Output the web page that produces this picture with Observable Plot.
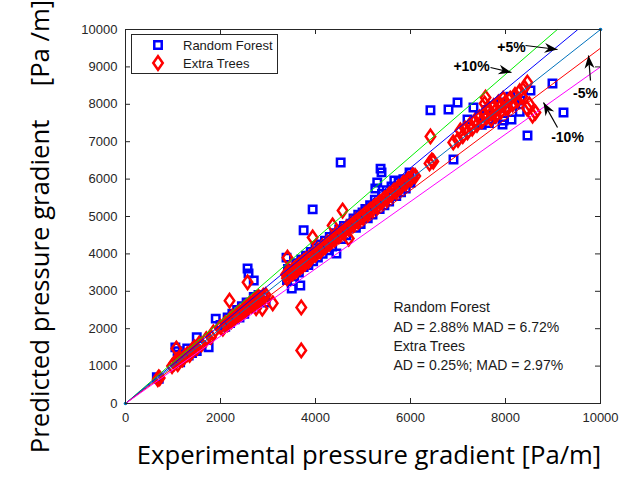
<!DOCTYPE html>
<html><head><meta charset="utf-8">
<script src="https://cdn.jsdelivr.net/npm/d3@7"></script>
<script src="https://cdn.jsdelivr.net/npm/@observablehq/plot@0.6"></script>
<style>
body{margin:0;background:#fff}
#wrap{position:relative;width:631px;height:479px}
#legend{position:absolute;left:131px;top:34px;width:145px;height:38px;border:1px solid #262626;background:#fff}
</style>
</head><body><div id="wrap"><div id="legend"></div></div>
<script>
// ---- data (Pa/m) ----
const seriesNames = ["Random Forest", "Extra Trees"];
const rfX = [660,700,1050,1100,1100,1150,1200,1300,1330,1400,1500,1500,1600,1750,1900,2000,2100,2150,2200,2250,2300,2350,2400,2450,2500,2550,2570,2590,2700,2650,2700,2750,2800,2850,2900,2950,
 3390,3400,3420,3500,3680,3450,3550,3600,3650,3700,3750,3750,3800,3850,3900,3940,3950,4000,4050,4100,4150,4200,4250,4300,4350,4400,4440,4500,4530,4550,4600,4650,4740,4800,4850,4900,4950,4990,5050,5100,5150,5200,5260,5300,5370,5390,5250,5350,5400,5450,5500,5550,5600,5660,5700,5750,5800,5850,5900,5980,6000,6050,
 6420,6800,6990,6905,7200,7326,7450,7500,7600,7700,7750,7800,7900,7937,7958,8000,8100,8126,8200,8316,8463,8526,8989,9221,8300,7650];
const rfY = [700,660,1500,1400,1200,1100,1300,1470,1280,1350,1770,1400,1550,1500,2270,2100,2050,2300,2150,2400,2250,2500,2300,2600,2400,2700,3610,3480,3290,2550,2850,2650,2900,2750,2850,2700,
 3900,3300,3600,3075,3155,3550,3400,3750,3500,3850,4630,3650,3950,3700,4050,5190,3800,4150,3900,4250,4000,4350,4100,4450,4200,4550,4010,4650,6445,4400,4750,4500,4810,4950,4700,5050,4800,5110,5200,4950,5300,5050,5750,5910,6280,6180,5450,5200,5600,5300,5700,5400,5800,5960,5550,5900,5650,6000,5750,6180,5900,6100,
 7840,7860,8050,6525,7595,7915,7700,7450,7850,7600,7950,7700,8050,7460,7567,7900,8200,7595,8000,8102,7166,8370,8557,7781,7800,7500];
const etX = [680,700,720,980,1030,1080,1100,1150,1200,1250,1300,1350,1400,1450,1500,1550,1600,1700,1800,1850,
 2000,2050,2100,2150,2200,2230,2250,2300,2350,2380,2400,2450,2500,2520,2550,2600,2620,2650,2700,2720,2750,2780,2800,2820,2850,2900,2950,
 2190,2570,2880,3100,3700,3700,1070,2750,
 3380,3400,3420,3450,3500,3520,3550,3580,3600,3620,3650,3680,3700,3730,3750,3780,3800,3850,3880,3900,3950,4000,4050,4100,4150,4200,4250,4300,4350,4400,4450,4500,4550,4600,4650,4700,3410,3940,4360,4570,4700,
 4750,4800,4850,4900,4950,5000,5050,5100,5150,5200,5250,5300,5350,5400,5450,5500,5550,5600,5650,5700,5750,5800,5850,5900,5950,6000,6050,6100,
 6400,6450,6480,6420,
 6900,7000,7050,7100,7150,7200,7250,7300,7350,7400,7450,7500,7550,7600,7650,7700,7750,7800,7850,7900,7950,8000,8050,8100,8150,8200,8250,8300,8350,8400,8460,8570,8630,8500,8450,7700,7800,7900,8000,7580,7560];
const etY = [650,700,680,1000,1080,1150,1050,1200,1180,1260,1320,1300,1430,1500,1480,1600,1580,1720,1780,1900,
 2050,2000,2150,2120,2250,2200,2320,2280,2400,2350,2450,2420,2550,2480,2600,2580,2680,2620,2750,2680,2800,2720,2850,2780,2800,2880,2900,
 2750,3240,2540,2680,2570,1420,1470,2550,
 3450,3350,3500,3420,3550,3480,3600,3540,3650,3580,3700,3640,3750,3690,3800,3740,3850,3800,3920,3870,4000,3980,4100,4060,4200,4180,4300,4280,4400,4380,4500,4480,4600,4580,4700,4680,3900,4440,4760,5160,4410,
 4800,4780,4900,4870,5000,4980,5100,5060,5200,5180,5300,5260,5400,5380,5500,5460,5600,5580,5700,5660,5800,5780,5900,5880,6000,5980,6100,6080,
 6420,6500,6470,7140,
 6980,7050,7300,7150,7350,7250,7450,7350,7550,7450,7650,7550,7750,7650,7850,7750,7950,7850,8050,7950,8150,8050,7900,8150,8000,8250,8100,8350,8200,8450,8580,7700,7780,8000,7900,7600,7700,7800,7900,8180,8020];
const xTicks = [0,2000,4000,6000,8000,10000];
const yTicks = [0,1000,2000,3000,4000,5000,6000,7000,8000,9000,10000];
const lineFactors = [1.1, 1.05, 1.0, 0.95, 0.9];
const lineColors = ["#00ee00", "#0000ff", "#0072bd", "#ff0000", "#ff00ff"];
const annText = ["+5%", "+10%", "-5%", "-10%"];
const annX = [8126, 7284, 9684, 9305];
const annY = [9519, 9011, 8289, 7112];
const arrX1 = [8421, 7684, 9789, 9095];
const arrY1 = [9572, 8984, 8636, 7380];
const arrX2 = [9095, 8126, 9747, 8800];
const arrY2 = [9465, 8850, 9305, 8048];
const statLines = ["Random Forest", "AD = 2.88% MAD = 6.72%", "Extra Trees", "AD = 0.25%; MAD = 2.97%"];
const statX = 5642;
const statY = [2567, 2032, 1524, 1016];
const xLabel = "Experimental pressure gradient [Pa/m]";
const yLabel = "Predicted pressure gradient\u00a0\u00a0\u00a0\u00a0\u00a0[Pa /m]";

// ---- build ----
const W = 631, H = 479, mL = 125, mR = 31, mT = 29, mB = 76;
const innerW = W - mL - mR, innerH = H - mT - mB, tl = 5;
const rf = rfX.map((x, i) => ({x, y: rfY[i]}));
const et = etX.map((x, i) => ({x, y: etY[i]}));
const lines = lineFactors.map((k, i) => {
  const xe = Math.min(10000, 10000 / k);
  return {x1: 0, y1: 0, x2: xe, y2: k * xe, c: lineColors[i]};
});
const ann = annText.map((t, i) => ({t, x: annX[i], y: annY[i]}));
const arrows = arrX1.map((x, i) => ({x1: x, y1: arrY1[i], x2: arrX2[i], y2: arrY2[i]}));
const stats = statLines.map((t, i) => ({t, x: statX, y: statY[i]}));

const diamond = {
  draw(ctx, size) {
    const r = Math.sqrt(size / Math.PI);
    const hw = 1.13 * r, hh = 1.6 * r;
    ctx.moveTo(0, -hh); ctx.lineTo(hw, 0); ctx.lineTo(0, hh); ctx.lineTo(-hw, 0); ctx.closePath();
  }
};
const axisColor = "#262626";

const chart = Plot.plot({
  width: W, height: H,
  marginLeft: mL, marginRight: mR, marginTop: mT, marginBottom: mB,
  style: {fontFamily: "'Liberation Sans', Arial, sans-serif", fontSize: "13px", color: axisColor, background: "white", overflow: "visible"},
  x: {domain: [0, 10000], ticks: xTicks, tickSize: 0, tickPadding: 9, label: null, tickFormat: d3.format("d")},
  y: {domain: [0, 10000], ticks: yTicks, tickSize: 0, tickPadding: 8, label: null, tickFormat: d3.format("d")},
  marks: [
    Plot.dot(rf, {x: "x", y: "y", symbol: "square", r: 4.2, stroke: "#0000ff", strokeWidth: 2.5, fill: "none"}),
    Plot.dot(et, {x: "x", y: "y", symbol: diamond, r: 4.2, stroke: "#ff0000", strokeWidth: 2.5, fill: "none"}),
    Plot.link(lines, {x1: "x1", y1: "y1", x2: "x2", y2: "y2", stroke: "c", strokeWidth: 1}),
    Plot.dot([lines[2]], {x: "x1", y: "y1", r: 1.8, fill: lineColors[2]}),
    Plot.dot([lines[2]], {x: "x2", y: "y2", r: 1.8, fill: lineColors[2]}),
    Plot.frame({stroke: axisColor, strokeWidth: 1}),
    Plot.tickX(xTicks, {x: d => d, insetTop: innerH - tl, stroke: axisColor}),
    Plot.tickX(xTicks, {x: d => d, insetBottom: innerH - tl, stroke: axisColor}),
    Plot.tickY(yTicks, {y: d => d, insetRight: innerW - tl, stroke: axisColor}),
    Plot.tickY(yTicks, {y: d => d, insetLeft: innerW - tl, stroke: axisColor}),
    Plot.link(arrows, {x1: "x1", y1: "y1", x2: "x2", y2: "y2", stroke: "black", strokeWidth: 1.2, strokeOpacity: 0.999}),
    Plot.text(ann, {x: "x", y: "y", text: "t", fontWeight: "bold", fontSize: 14, fill: "black"}),
    Plot.text(stats, {x: "x", y: "y", text: "t", textAnchor: "start", fontSize: 14, fill: "#1a1a1a"}),
    Plot.text([xLabel], {text: d => d, frameAnchor: "bottom", dx: 6, dy: 52, lineAnchor: "middle", textAnchor: "middle", fontSize: 25.7, fontFamily: "'Open Sans', sans-serif", fill: "black"}),
    Plot.text([yLabel], {text: d => d, frameAnchor: "left", dx: -85, dy: 10, rotate: -90, textAnchor: "middle", lineAnchor: "middle", fontSize: 25.7, fontFamily: "'Open Sans', sans-serif", fill: "black"})
  ]
});
document.getElementById("wrap").prepend(chart);

// filled arrowheads for annotation arrows
const svg = d3.select(chart);
const defs = svg.append("defs");
defs.append("marker").attr("id", "vback").attr("markerUnits", "userSpaceOnUse")
  .attr("viewBox", "-14 -6 15 12").attr("refX", 0).attr("refY", 0)
  .attr("markerWidth", 15).attr("markerHeight", 12).attr("orient", "auto")
  .append("path").attr("d", "M0,0L-13,-5L-9,0L-13,5Z").attr("fill", "black");
svg.selectAll("g").filter(function() {
  return this.getAttribute("stroke-opacity") === "0.999";
}).selectAll("path").attr("marker-end", "url(#vback)");
svg.selectAll('path[stroke-opacity="0.999"]').attr("marker-end", "url(#vback)");

// legend
const lg = d3.select("#legend").append("svg").attr("width", 145).attr("height", 38);
const sq = d3.symbol(d3.symbolSquare, Math.PI * 4.2 * 4.2)();
const dm = d3.symbol(diamond, Math.PI * 4.2 * 4.2)();
lg.append("path").attr("d", sq).attr("transform", "translate(26,10)").attr("fill", "none").attr("stroke", "#0000ff").attr("stroke-width", 2.5);
lg.append("path").attr("d", dm).attr("transform", "translate(26,28)").attr("fill", "none").attr("stroke", "#ff0000").attr("stroke-width", 2.5);
seriesNames.forEach((n, i) => {
  lg.append("text").attr("x", 51).attr("y", 10 + 18 * i).attr("dy", "0.35em")
    .attr("font-family", "'Liberation Sans', Arial, sans-serif").attr("font-size", 13).attr("fill", "#1a1a1a").text(n);
});
</script>
</body></html>
